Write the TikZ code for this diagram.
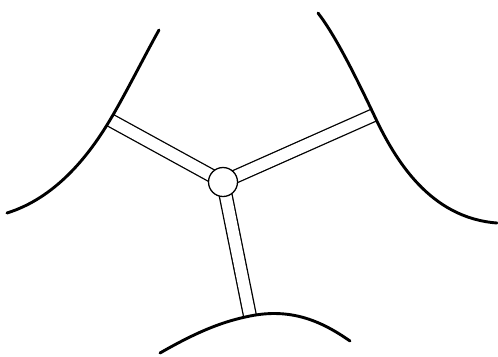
\documentclass[tikz,border=0pt]{standalone}
\usetikzlibrary{backgrounds}
\begin{document}
\begin{tikzpicture}[x=1bp,y=-1bp,line width=1.3bp,
 wall/.style={line width=2.9bp,line cap=round},
 strut/.style={double distance=11.5bp,line width=1.3bp},
 every node/.style={inner sep=0pt}]
 \useasboundingbox (0,0) rectangle (498,356);
 \node[circle,draw,fill=white,minimum size=29bp] (hub) at (223,182) {};
 \coordinate (jl) at (110,120);
 \coordinate (jr) at (374,115);
 \coordinate (jb) at (250,316);
 \begin{scope}[on background layer]
  \draw[strut] (hub.center)--(jl);
  \draw[strut] (hub.center)--(jr);
  \draw[strut] (hub.center)--(jb);
 \end{scope}
 \draw[wall] (7,213) .. controls (55,198) and (88,157) .. (jl) .. controls (125,95) and (145,55) .. (159,30);
 \draw[wall] (318,13) .. controls (335,35) and (355,75) .. (jr) .. controls (395,160) and (430,218) .. (497,223);
 \draw[wall] (160,353) .. controls (200,330) and (225,321) .. (jb) .. controls (290,308) and (320,320) .. (350,341);
\end{tikzpicture}
\end{document}
